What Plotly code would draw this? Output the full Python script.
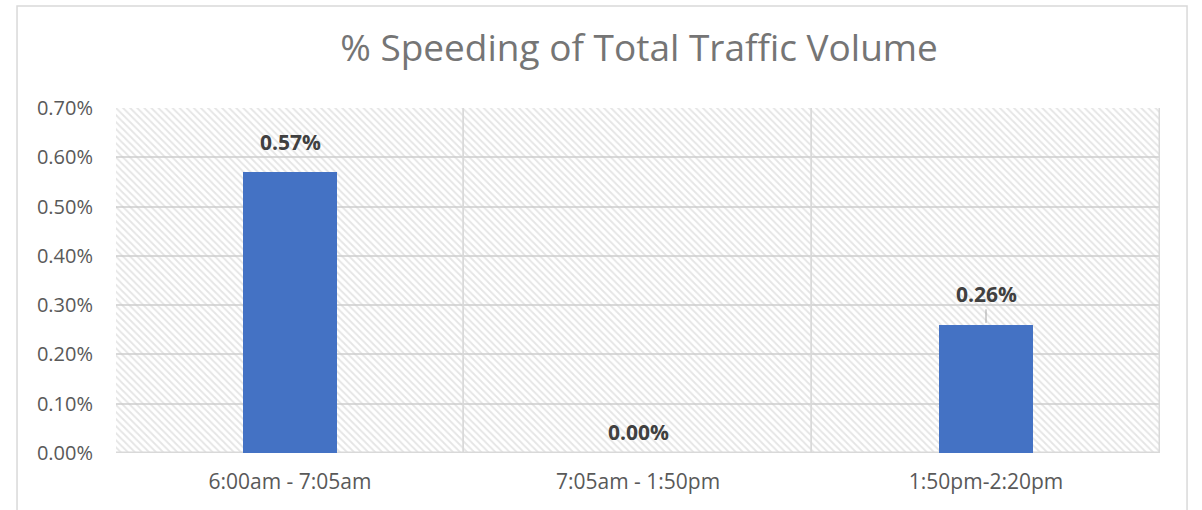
import plotly.graph_objects as go

categories = ["6:00am - 7:05am", "7:05am - 1:50pm", "1:50pm-2:20pm"]
values = [0.0057, 0.0000, 0.0026]
labels = ["0.57%", "0.00%", "0.26%"]
y_ticks = [0.0, 0.001, 0.002, 0.003, 0.004, 0.005, 0.006, 0.007]
y_max = 0.007

FONT = "Open Sans"
fig = go.Figure()

# hatched plot background, one cell per category
fig.add_trace(go.Bar(
    x=categories, y=[y_max] * len(categories), width=1,
    marker=dict(color="rgba(0,0,0,0)",
                line=dict(color="#d9d9d9", width=1.5),
                pattern=dict(shape="\\", fgcolor="#cccccc", bgcolor="rgba(0,0,0,0)",
                             size=5, solidity=0.38)),
    hoverinfo="skip", showlegend=False,
))

fig.add_trace(go.Bar(
    x=categories, y=values, width=0.27,
    marker=dict(color="#4472C4", line=dict(width=0)),
    showlegend=False,
))

for i, (c, v, t) in enumerate(zip(categories, values, labels)):
    if i == 2:
        fig.add_annotation(x=c, y=v, text="<b>" + t + "</b>", showarrow=True,
                           arrowhead=0, arrowcolor="#a6a6a6", arrowwidth=1,
                           ax=0, ay=-31, standoff=2,
                           font=dict(family=FONT, size=21, color="#404040"))
    else:
        fig.add_annotation(x=c, y=v, text="<b>" + t + "</b>", showarrow=False,
                           yshift=30 if v > 0 else 21,
                           font=dict(family=FONT, size=21, color="#404040"))

# outer chart border
fig.add_shape(type="rect", xref="paper", yref="paper",
              x0=-0.0948, x1=1.0259, y0=-0.18, y1=1.2957,
              line=dict(color="#d9d9d9", width=1.5), fillcolor="rgba(0,0,0,0)",
              layer="below")

fig.update_layout(
    width=1202, height=510,
    margin=dict(l=116, r=42, t=108, b=57),
    paper_bgcolor="white", plot_bgcolor="white",
    barmode="overlay",
    title=dict(text="% Speeding of Total Traffic Volume", x=0.501, xref="paper",
               xanchor="center", y=(510 - 48) / 510, yanchor="middle",
               font=dict(family=FONT, size=37, color="#757575")),
    xaxis=dict(showgrid=False, showline=False, zeroline=False, ticks="",
               tickfont=dict(family=FONT, size=21, color="#595959"),
               range=[-0.5, 2.5], ticklabelstandoff=14),
    yaxis=dict(range=[0, y_max], tickvals=y_ticks, tickformat=".2%",
               showgrid=True, gridcolor="#d9d9d9", gridwidth=1.5,
               zeroline=False, showline=False, ticks="",
               tickfont=dict(family=FONT, size=20, color="#595959"),
               ticklabelstandoff=22),
    bargap=0,
)

fig.write_html("out.html", config={"displayModeBar": False},
               post_script="document.body.style.margin='0';")
